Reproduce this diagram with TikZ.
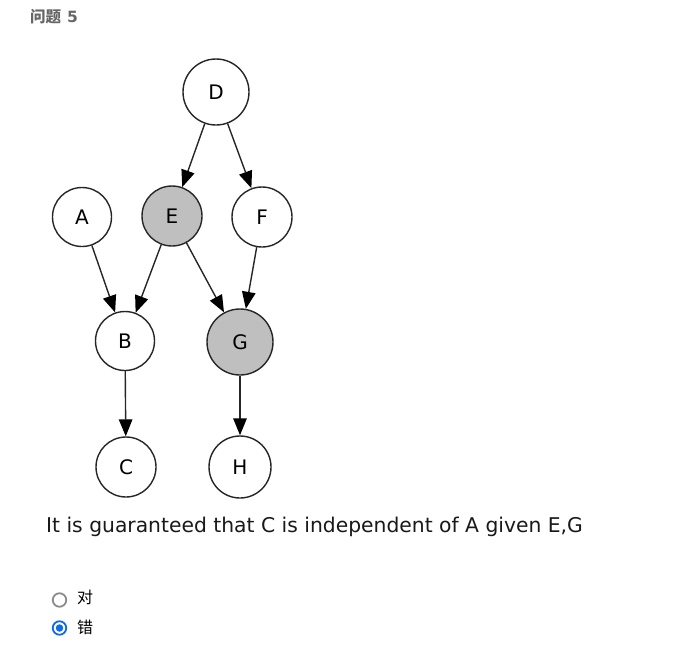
\documentclass[tikz,border=0pt]{standalone}
\usepackage{fontspec}
\setmainfont{DejaVu Sans}
\newfontfamily\cjk{Noto Sans CJK SC}
\usetikzlibrary{arrows.meta}
\definecolor{radioblue}{RGB}{16,108,230}
\begin{document}
\begin{tikzpicture}[x=1pt,y=-1pt,
  gnode/.style={circle,draw=black!85,line width=1.4pt,fill=white,inner sep=0pt,font=\fontsize{20}{20}\selectfont},
  obs/.style={gnode,fill=black!25},
  edge/.style={draw=black!85,line width=1.4pt,-{Triangle[length=17pt,width=13.5pt,color=black]}}]
\useasboundingbox (0,0) rectangle (676,653);
\node[gnode,minimum size=66pt] (D) at (216,92) {D};
\node[gnode,minimum size=59pt] (A) at (82,217) {A};
\node[obs,minimum size=60pt] (E) at (172,216) {E};
\node[gnode,minimum size=60pt] (F) at (262,217) {F};
\node[gnode,minimum size=59pt] (B) at (125,341) {B};
\node[obs,minimum size=66pt] (G) at (240,342) {G};
\node[gnode,minimum size=60pt] (C) at (126,467) {C};
\node[gnode,minimum size=62pt] (H) at (240,467) {H};
\draw[edge] (D) -- (E);
\draw[edge] (D) -- (F);
\draw[edge] (A) -- (B);
\draw[edge] (E) -- (B);
\draw[edge] (E) -- (G);
\draw[edge] (F) -- (G);
\draw[edge] (B) -- (C);
\draw[edge] (G) -- (H);
\node[anchor=west,inner sep=0pt,text=black!60,font=\bfseries\fontsize{15.5}{15.5}\selectfont] (title) at (30,17) {{\cjk 问题}\hspace{6pt}5};
\node[anchor=base west,inner sep=0pt,text=black!90,font=\fontsize{20.3}{20.3}\selectfont] (q) at (46,532) {It is guaranteed that C is independent of A given E,G};
\node[circle,draw=black!45,line width=1.8pt,minimum size=13.5pt,inner sep=0pt] (r1) at (59.5,600) {};
\node[circle,draw=radioblue,line width=1.8pt,minimum size=13.5pt,inner sep=0pt] (r2) at (59.5,628) {};
\node[circle,fill=radioblue,minimum size=7.5pt,inner sep=0pt] (r2dot) at (59.5,628) {};
\node[anchor=west,inner sep=0pt,font=\cjk\fontsize{16}{16}\selectfont] (l1) at (77,597.5) {对};
\node[anchor=west,inner sep=0pt,font=\cjk\fontsize{16}{16}\selectfont] (l2) at (77,627.5) {错};
\end{tikzpicture}
\end{document}
